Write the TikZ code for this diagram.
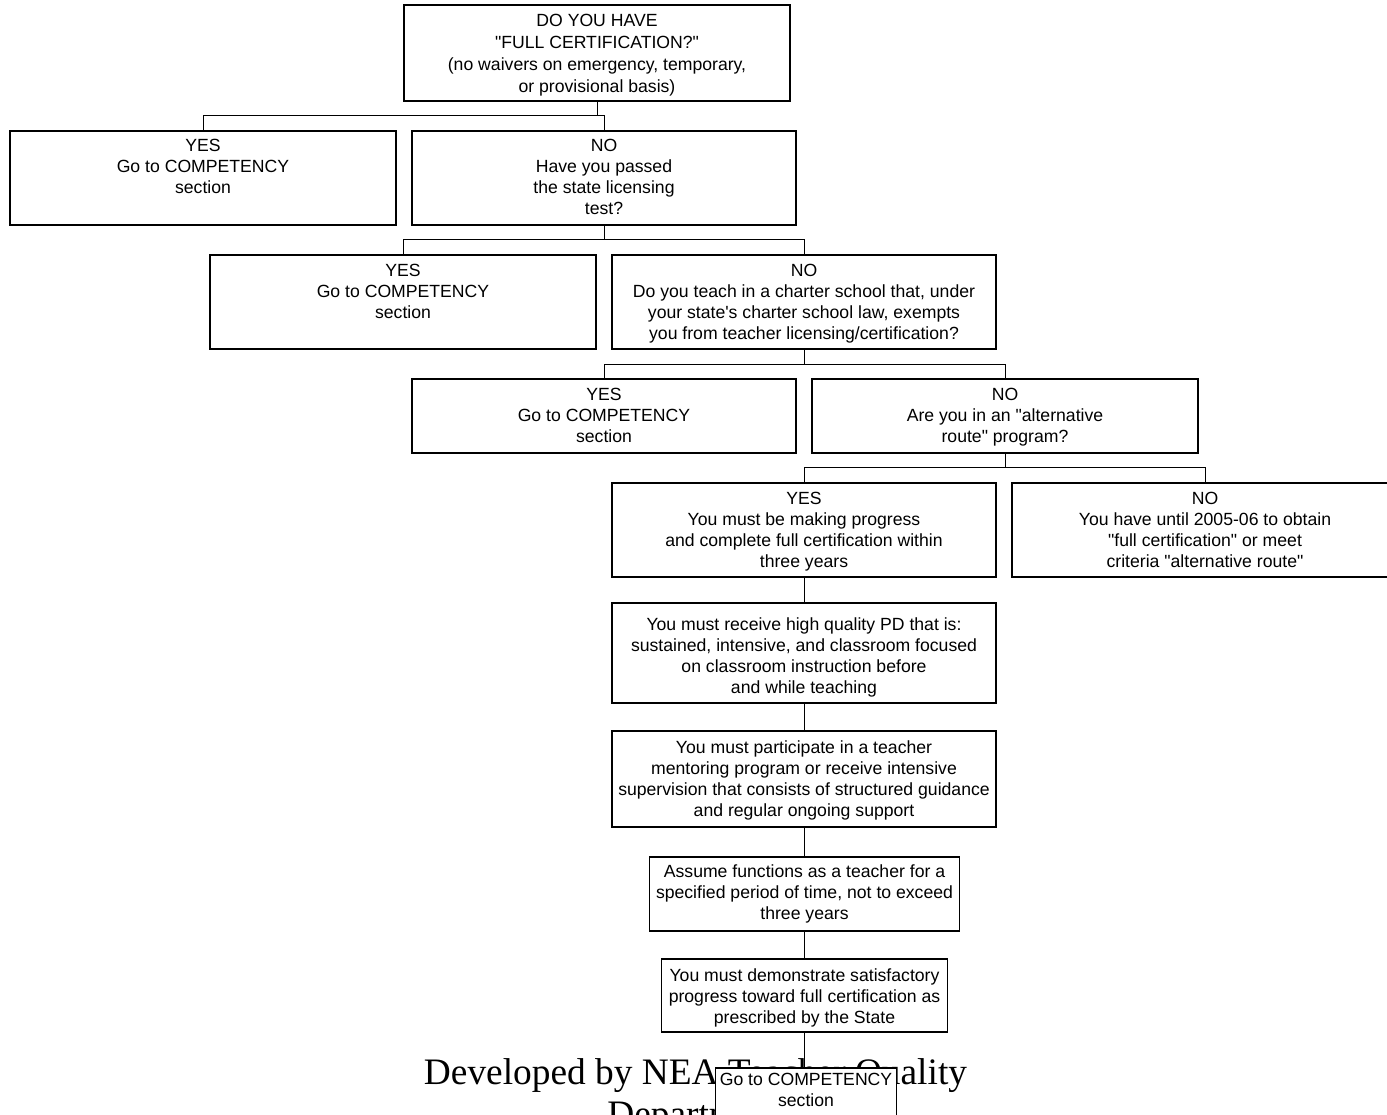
\documentclass[tikz,border=0pt]{standalone}
\usepackage{fontspec}
\setmainfont{Liberation Sans}
\newfontfamily\tnr{Liberation Serif}
\newcommand\qq{\textquotedbl}
\begin{document}
\begin{tikzpicture}[x=1bp,y=-1bp,
  box/.style={draw,line width=1.6bp,fill=white,inner sep=0pt,outer sep=0pt},
  txt/.style={anchor=base,align=center,inner sep=0pt,font=\fontsize{17.7}{21}\selectfont},
  link/.style={line width=1bp}]
\useasboundingbox (0,0) rectangle (1387,1114);
\fill[white] (0,0) rectangle (1387,1114);

% credit text (partly covered by last box); base = last line
\node[anchor=base,align=center,inner sep=0pt,font=\tnr\fontsize{37.5}{42}\selectfont] (credit) at (695.5,1126) {Developed by NEA Teacher Quality\\Department};

% boxes (text nodes anchored at the baseline of their last line)
\node[box,minimum width=386bp,minimum height=96bp] (A) at (597,53) {};
\node[txt,font=\fontsize{17.7}{22}\selectfont] (At) at (597,92) {DO YOU HAVE\\\qq FULL CERTIFICATION?\qq\\(no waivers on emergency, temporary,\\or provisional basis)};

\node[box,minimum width=386bp,minimum height=94bp] (Y1) at (203,178) {};
\node[txt] (Y1t) at (203,193) {YES\\Go to COMPETENCY\\section};
\node[box,minimum width=384bp,minimum height=94bp] (N1) at (604,178) {};
\node[txt] (N1t) at (604,214) {NO\\Have you passed\\the state licensing\\test?};

\node[box,minimum width=386bp,minimum height=94bp] (Y2) at (403,302) {};
\node[txt] (Y2t) at (403,318) {YES\\Go to COMPETENCY\\section};
\node[box,minimum width=384bp,minimum height=94bp] (N2) at (804,302) {};
\node[txt] (N2t) at (804,339) {NO\\Do you teach in a charter school that, under\\your state\textquotesingle s charter school law, exempts\\you from teacher licensing/certification?};

\node[box,minimum width=384bp,minimum height=74bp] (Y3) at (604,416) {};
\node[txt] (Y3t) at (604,442) {YES\\Go to COMPETENCY\\section};
\node[box,minimum width=386bp,minimum height=74bp] (N3) at (1005,416) {};
\node[txt] (N3t) at (1005,442) {NO\\Are you in an \qq alternative\\route\qq\ program?};

\node[box,minimum width=384bp,minimum height=94bp] (Y4) at (804,530) {};
\node[txt] (Y4t) at (804,567) {YES\\You must be making progress\\and complete full certification within\\three years};
\node[box,minimum width=386bp,minimum height=94bp] (N4) at (1205,530) {};
\node[txt] (N4t) at (1205,567) {NO\\You have until 2005-06 to obtain\\\qq full certification\qq\ or meet\\criteria \qq alternative route\qq};

\node[box,minimum width=384bp,minimum height=100bp] (PD) at (804,653) {};
\node[txt] (PDt) at (804,693) {You must receive high quality PD that is:\\sustained, intensive, and classroom focused\\on classroom instruction before\\and while teaching};

\node[box,minimum width=384bp,minimum height=96bp] (M) at (804,779) {};
\node[txt] (Mt) at (804,816) {You must participate in a teacher\\mentoring program or receive intensive\\supervision that consists of structured guidance\\and regular ongoing support};

\node[box,minimum width=310bp,minimum height=74bp] (AS) at (804.5,894) {};
\node[txt] (ASt) at (804.5,919) {Assume functions as a teacher for a\\specified period of time, not to exceed\\three years};

\node[box,minimum width=286bp,minimum height=73bp] (DM) at (804.5,995.5) {};
\node[txt] (DMt) at (804.5,1023) {You must demonstrate satisfactory\\progress toward full certification as\\prescribed by the State};

\node[box,minimum width=181bp,minimum height=60bp] (L) at (806,1098) {};
\node[txt] (Lt) at (806,1106) {Go to COMPETENCY\\section};

% connectors
\draw[link] (A.south) -- ++(0,14) -| (Y1.north);
\draw[link] (A.south) -- ++(0,14) -| (N1.north);
\draw[link] (N1.south) -- ++(0,14) -| (Y2.north);
\draw[link] (N1.south) -- ++(0,14) -| (N2.north);
\draw[link] (N2.south) -- ++(0,15) -| (Y3.north);
\draw[link] (N2.south) -- ++(0,15) -| (N3.north);
\draw[link] (N3.south) -- ++(0,14) -| (Y4.north);
\draw[link] (N3.south) -- ++(0,14) -| (N4.north);
\draw[link] (Y4.south) -- (PD.north);
\draw[link] (PD.south) -- (M.north);
\draw[link] (M.south) -- (M.south |- AS.north);
\draw[link] (AS.south) -- (AS.south |- DM.north);
\draw[link] (DM.south) -- (DM.south |- L.north);
\end{tikzpicture}
\end{document}
